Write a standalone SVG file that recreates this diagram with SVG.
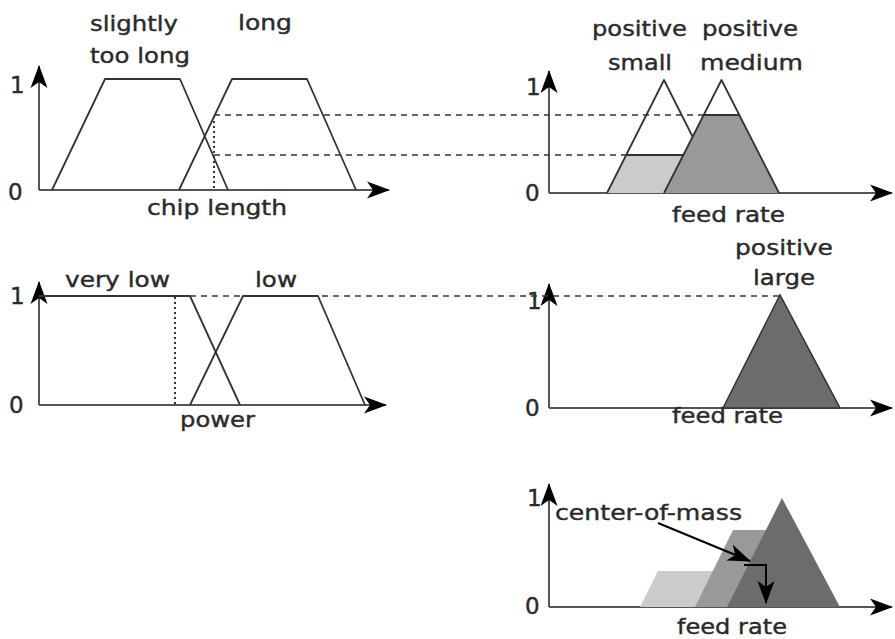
<svg xmlns="http://www.w3.org/2000/svg" width="895" height="639" viewBox="0 0 895 639">
<style>
text{font-family:"DejaVu Sans","Liberation Sans",sans-serif;font-size:22px;fill:#2a2a2a;stroke:#2a2a2a;stroke-width:0.4}
.n{font-size:23px}
.ax{stroke:#555;stroke-width:2;fill:none}
.mf{stroke:#333;stroke-width:1.8;fill:none;stroke-linejoin:round}
.dash{stroke:#333;stroke-width:1.6;stroke-dasharray:6 5;fill:none}
.dot{stroke:#333;stroke-width:2;stroke-dasharray:2 3;fill:none}
.lt{fill:#cbcbcb}
.md{fill:#999999}
.dk{fill:#6c6c6c}
</style>
<defs>
<marker id="ah" markerUnits="userSpaceOnUse" markerWidth="30" markerHeight="20" viewBox="-24 -10 26 20" refX="0" refY="0" orient="auto">
<path d="M1,0 L-22,-8.5 L-16,0 L-22,8.5 Z" fill="#000"/>
</marker>
</defs>

<g id="chip-length-plot">
<path class="ax" d="M39,190 V66" marker-end="url(#ah)"/>
<path class="ax" d="M39,190 H389" marker-end="url(#ah)"/>
<text class="n" x="10" y="93">1</text>
<text class="n" x="8" y="200">0</text>
<path class="mf" d="M52,190 L105,79 L180,79 L228,190"/>
<path class="mf" d="M179,190 L232,79 L307,79 L356,190"/>
<text x="90" y="31" textLength="88" lengthAdjust="spacingAndGlyphs">slightly</text>
<text x="90" y="63" textLength="100" lengthAdjust="spacingAndGlyphs">too long</text>
<text x="238" y="30" textLength="54" lengthAdjust="spacingAndGlyphs">long</text>
<text x="147" y="215" textLength="140" lengthAdjust="spacingAndGlyphs">chip length</text>
</g>

<g id="feed-rate-plot-1">
<path class="ax" d="M549,193 V71" marker-end="url(#ah)"/>
<path class="ax" d="M549,193 H892" marker-end="url(#ah)"/>
<text class="n" x="526" y="95">1</text>
<text class="n" x="525" y="201">0</text>
<polygon class="lt" points="607,193 626.2,155 683.2,155 664,193"/>
<polygon class="md" points="664,193 703.7,115 739.3,115 779,193"/>
<path class="mf" d="M626.2,155 H683.2"/>
<path class="mf" d="M703.7,115 H739.3"/>
<path class="mf" d="M607,193 L664,80 L692.5,136.5"/>
<path class="mf" d="M664,193 L721.5,80 L779,193"/>
<text x="592" y="36" textLength="95" lengthAdjust="spacingAndGlyphs">positive</text>
<text x="608" y="70" textLength="64" lengthAdjust="spacingAndGlyphs">small</text>
<text x="702" y="36" textLength="96" lengthAdjust="spacingAndGlyphs">positive</text>
<text x="700" y="70" textLength="103" lengthAdjust="spacingAndGlyphs">medium</text>
<text x="672" y="222" textLength="113" lengthAdjust="spacingAndGlyphs">feed rate</text>
</g>

<g id="power-plot">
<path class="ax" d="M39,405 V282" marker-end="url(#ah)"/>
<path class="ax" d="M39,405 H386" marker-end="url(#ah)"/>
<text class="n" x="10" y="304">1</text>
<text class="n" x="9" y="413">0</text>
<path class="mf" d="M39,296 L190,296 L240,405"/>
<path class="mf" d="M190,405 L243,296 L318,296 L365,405"/>
<text x="65" y="287" textLength="105" lengthAdjust="spacingAndGlyphs">very low</text>
<text x="255" y="287" textLength="42" lengthAdjust="spacingAndGlyphs">low</text>
<text x="180" y="427" textLength="75" lengthAdjust="spacingAndGlyphs">power</text>
</g>

<g id="feed-rate-plot-2">
<path class="ax" d="M549,408 V284" marker-end="url(#ah)"/>
<path class="ax" d="M549,408 H892" marker-end="url(#ah)"/>
<text class="n" x="527" y="309">1</text>
<text class="n" x="525" y="416">0</text>
<polygon class="dk" points="723,408 780,295 840,408" stroke="#333" stroke-width="1.5"/>
<text x="735" y="255" textLength="98" lengthAdjust="spacingAndGlyphs">positive</text>
<text x="753" y="285" textLength="62" lengthAdjust="spacingAndGlyphs">large</text>
<text x="672" y="423" textLength="111" lengthAdjust="spacingAndGlyphs">feed rate</text>
</g>

<g id="result-plot">
<path class="ax" d="M549,607 V484" marker-end="url(#ah)"/>
<path class="ax" d="M549,607 H892" marker-end="url(#ah)"/>
<text class="n" x="527" y="506">1</text>
<text class="n" x="525" y="614">0</text>
<polygon class="lt" points="640,607 658,571 720,571 740,607"/>
<polygon class="md" points="695,607 733,530 770,530 810,607"/>
<polygon class="dk" points="727,607 782,498 840,607"/>
<text x="555" y="520" textLength="187" lengthAdjust="spacingAndGlyphs">center-of-mass</text>
<text x="677" y="634" textLength="110" lengthAdjust="spacingAndGlyphs">feed rate</text>
</g>

<g id="connectors">
<path class="dash" d="M214,115 H704"/>
<path class="dash" d="M214,155 H626"/>
<path class="dot" d="M214,116 V190"/>
<path class="dash" d="M190,296 H780"/>
<path class="dot" d="M175,297 V405"/>
<path stroke="#000" stroke-width="2" fill="none" d="M658,523 L750,561" marker-end="url(#ah)"/>
<path stroke="#000" stroke-width="2" fill="none" d="M744,565 H766 V603" marker-end="url(#ah)"/>
</g>
</svg>
